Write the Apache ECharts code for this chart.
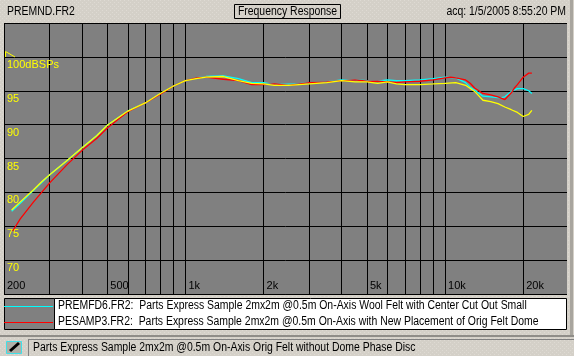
<!DOCTYPE html>
<html>
<head>
<meta charset="utf-8">
<style>html,body{margin:0;padding:0;background:#d4d0c8}#chart{width:574px;height:356px}</style>
<script src="https://cdn.jsdelivr.net/npm/echarts@6/dist/echarts.min.js"></script>
</head>
<body>
<div id="chart"></div>
<script>
var gridFreqs = [200, 300, 400, 500, 600, 700, 800, 900, 1000, 2000, 3000, 4000, 5000, 6000, 7000, 8000, 9000, 10000, 20000];
var labelFreqs = [200, 500, 1000, 2000, 5000, 10000, 20000];
var dbTicks = [70, 75, 80, 85, 90, 95, 100];

var cyanFreq = [214, 231, 260, 280, 300, 350, 400, 456, 500, 600, 700, 800, 900, 1000, 1100, 1200, 1400, 1600, 1800, 2000, 2200, 2700, 3000, 3500, 4000, 4500, 5000, 5500, 6000, 6500, 7000, 8000, 9000, 10000, 11000, 12000, 12500, 13000, 14000, 15000, 16000, 16500, 17000, 18000, 19000, 20000, 21000, 21600];
var cyanDb = [77.2, 78.4, 80.3, 81.5, 82.6, 84.7, 86.6, 88.4, 89.9, 92.0, 93.2, 94.6, 95.7, 96.5, 96.9, 97.1, 97.2, 96.8, 96.2, 96.2, 95.9, 96.0, 96.2, 96.3, 96.6, 96.6, 96.5, 96.4, 96.6, 96.5, 96.5, 96.6, 96.8, 97.0, 96.9, 96.2, 95.5, 95.1, 94.2, 94.1, 94.0, 94.0, 94.1, 94.9, 95.3, 95.3, 95.0, 94.6];

var redFreq = [216, 231, 260, 300, 350, 400, 456, 500, 551, 600, 700, 800, 900, 1000, 1100, 1200, 1400, 1600, 1800, 2000, 2200, 2500, 3000, 3500, 4000, 4500, 5000, 5500, 6000, 6500, 7000, 8000, 9000, 10000, 10500, 11000, 12000, 12500, 13000, 14000, 15000, 16000, 17000, 18000, 18500, 19000, 20000, 21000, 21600];
var redDb = [74.3, 76.1, 78.6, 81.4, 84.1, 86.2, 88.0, 89.5, 90.8, 91.9, 93.2, 94.5, 95.7, 96.5, 96.9, 97.0, 96.7, 96.5, 95.9, 95.9, 96.0, 95.8, 96.2, 96.3, 96.5, 96.6, 96.4, 96.4, 96.3, 96.2, 96.3, 96.4, 96.6, 96.9, 97.0, 96.9, 96.6, 96.1, 95.4, 94.6, 94.4, 94.1, 93.7, 94.7, 95.4, 95.9, 97.0, 97.6, 97.6];

var yellowFreq = [214, 231, 260, 280, 300, 350, 400, 456, 500, 600, 700, 800, 900, 1000, 1100, 1200, 1400, 1600, 1800, 2000, 2200, 2500, 3000, 3500, 4000, 4500, 5000, 5500, 6000, 6500, 7000, 8000, 9000, 10000, 11000, 12000, 13000, 14000, 15000, 16000, 17000, 18000, 19000, 20000, 21000, 21600];
var yellowDb = [77.4, 78.6, 80.4, 81.6, 82.6, 84.7, 86.6, 88.4, 89.9, 92.0, 93.2, 94.6, 95.7, 96.5, 96.8, 97.0, 97.1, 96.5, 96.1, 96.0, 95.8, 95.8, 96.0, 96.2, 96.5, 96.3, 96.3, 96.1, 96.3, 96.0, 95.9, 95.9, 96.0, 96.1, 96.2, 95.8, 94.9, 93.6, 93.4, 93.1, 92.6, 92.2, 91.8, 91.2, 91.5, 92.1];

var legendNames = [
    'PREMFD6.FR2:  Parts Express Sample 2mx2m @0.5m On-Axis Wool Felt with Center Cut Out Small',
    'PESAMP3.FR2:  Parts Express Sample 2mx2m @0.5m On-Axis with New Placement of Orig Felt Dome'
];
var statusText = 'Parts Express Sample 2mx2m @0.5m On-Axis Orig Felt without Dome Phase Disc';

function pairs(f, d) {
    return f.map(function(v, i) { return [v, d[i]]; });
}
function curve(name, color, f, d) {
    return {
        name: name, type: 'line', showSymbol: false, silent: true,
        lineStyle: { color: color, width: 1.3 },
        data: pairs(f, d)
    };
}
var font = '"Liberation Sans", Arial, sans-serif';
// squeezed to the narrow bitmap font of the original
function label(x, y, t, extra) {
    return { type: 'text', x: x, y: y, z: 20, scaleX: 0.87, style: Object.assign({ text: t, font: '12px ' + font, fill: '#000', verticalAlign: 'middle' }, extra || {}) };
}

// dotted dialog background
var dots = document.createElement('canvas');
dots.width = dots.height = 4;
var dc = dots.getContext('2d');
dc.fillStyle = '#d4d0c8';
dc.fillRect(0, 0, 4, 4);
dc.fillStyle = '#dedad3';
dc.fillRect(0, 0, 1, 1);
dc.fillRect(2, 2, 1, 1);

var chart = echarts.init(document.getElementById('chart'));
chart.setOption({
    animation: false,
    backgroundColor: { image: dots, repeat: 'repeat' },
    grid: { left: 4, right: 7, top: 23, bottom: 62, backgroundColor: '#808080', show: true, borderWidth: 0 },
    xAxis: {
        type: 'log', min: 200, max: 29500,
        axisLine: { show: false },
        axisTick: { show: false, customValues: gridFreqs },
        minorTick: { show: false },
        splitLine: { show: true, lineStyle: { color: '#000', width: 1 } },
        axisLabel: {
            inside: true, customValues: labelFreqs, color: '#000', fontFamily: font, fontSize: 11,
            align: 'left', padding: [0, 0, 0, 3], margin: 3, showMinLabel: true, showMaxLabel: true,
            formatter: function(v) { return v >= 1000 ? (v / 1000) + 'k' : '' + v; }
        }
    },
    yAxis: {
        type: 'value', min: 65, max: 105, interval: 5,
        axisLine: { show: false }, axisTick: { show: false },
        splitLine: { show: true, lineStyle: { color: '#000', width: 1 } },
        axisLabel: {
            inside: true, color: '#ffff00', fontFamily: font, fontSize: 11, margin: 3,
            verticalAlign: 'top', lineHeight: 16,
            formatter: function(v) {
                if (dbTicks.indexOf(v) < 0) return '';
                return v === 100 ? '100dBSPs' : '' + v;
            }
        }
    },
    series: [
        curve('PREMFD6', '#00ffff', cyanFreq, cyanDb),
        curve('PESAMP3', '#ff0000', redFreq, redDb),
        curve('Orig Felt', '#ffff00', yellowFreq, yellowDb)
    ],
    graphic: [
        label(7, 12, 'PREMND.FR2'),
        { type: 'rect', z: 19, shape: { x: 234.5, y: 4.5, width: 106, height: 14 }, style: { fill: 'transparent', stroke: '#000', lineWidth: 1 } },
        label(287.5, 12, 'Frequency Response', { align: 'center' }),
        label(566, 12, 'acq: 1/5/2005 8:55:20 PM', { align: 'right' }),
        { type: 'polyline', z: 20, shape: { points: [[5.5, 57], [5.5, 51.5], [15, 57]] }, style: { fill: 'transparent', stroke: '#ffff00', lineWidth: 1 } },
        // frame and right strip
        { type: 'line', z: 19, shape: { x1: 4.5, y1: 23, x2: 4.5, y2: 294 }, style: { stroke: '#000' } },
        { type: 'line', z: 19, shape: { x1: 4.5, y1: 23.5, x2: 567, y2: 23.5 }, style: { stroke: '#000' } },
        { type: 'line', z: 19, shape: { x1: 4.5, y1: 294.5, x2: 567, y2: 294.5 }, style: { stroke: '#000' } },
        { type: 'rect', z: 19, shape: { x: 570, y: 0, width: 3, height: 335 }, style: { fill: '#a8a59e' } },
        // legend box
        { type: 'rect', z: 19, shape: { x: 4.5, y: 298.5, width: 50, height: 31 }, style: { fill: '#808080', stroke: '#000' } },
        { type: 'rect', z: 19, shape: { x: 54.5, y: 298.5, width: 512, height: 31 }, style: { fill: '#fff', stroke: '#000' } },
        { type: 'line', z: 20, shape: { x1: 4, y1: 306.5, x2: 53, y2: 306.5 }, style: { stroke: '#00ffff', lineWidth: 1 } },
        { type: 'line', z: 20, shape: { x1: 4, y1: 322.5, x2: 53, y2: 322.5 }, style: { stroke: '#ff0000', lineWidth: 1 } },
        label(58, 306, legendNames[0]),
        label(58, 322, legendNames[1]),
        // status bar
        { type: 'rect', z: 19, shape: { x: 0, y: 335, width: 574, height: 2 }, style: { fill: '#8f8d88' } },
        { type: 'rect', z: 19, shape: { x: 6.5, y: 341.5, width: 15, height: 12 }, style: { fill: '#b0b0a8', stroke: '#40e0e8' } },
        { type: 'line', z: 20, shape: { x1: 10, y1: 351, x2: 19, y2: 343 }, style: { stroke: '#000', lineWidth: 3 } },
        { type: 'line', z: 19, shape: { x1: 28.5, y1: 339, x2: 28.5, y2: 356 }, style: { stroke: '#808080' } },
        { type: 'line', z: 19, shape: { x1: 28.5, y1: 339.5, x2: 574, y2: 339.5 }, style: { stroke: '#808080' } },
        label(33, 348, statusText)
    ]
});
</script>
</body>
</html>
